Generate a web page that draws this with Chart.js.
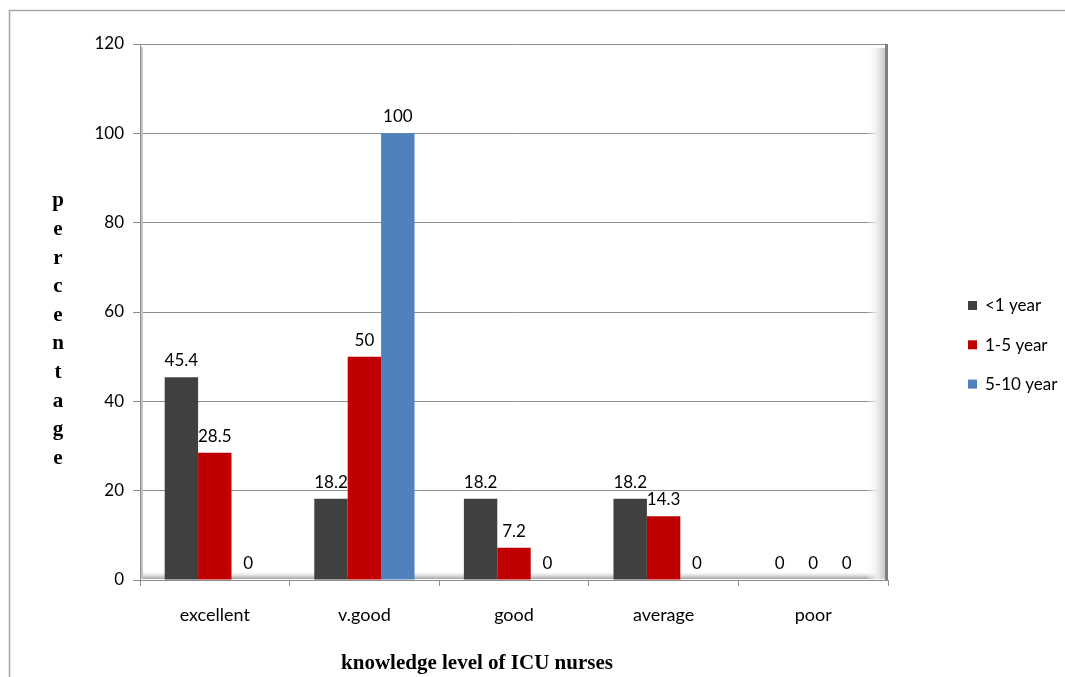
<!DOCTYPE html>
<html>
<head>
<meta charset="utf-8">
<script src="https://cdn.jsdelivr.net/npm/chart.js@4/dist/chart.umd.min.js"></script>
<style>
  html, body { margin: 0; padding: 0; background: #fff; }
  #wrap { width: 1065px; height: 677px; position: relative; }
</style>
</head>
<body>
<div id="wrap"><canvas id="c" width="1065" height="677"></canvas></div>
<script>
// ---- data ----
const categories = ['excellent', 'v.good', 'good', 'average', 'poor'];
const seriesNames = ['<1 year', '1-5 year', '5-10 year'];
const lessThanOneYear = [45.4, 18.2, 18.2, 18.2, 0];
const oneToFiveYears = [28.5, 50, 7.2, 14.3, 0];
const fiveToTenYears = [0, 100, 0, 0, 0];
const seriesColors = ['#404040', '#C00000', '#4F81BD'];
const yMin = 0, yMax = 120, yStep = 20;
const yTitle = 'percentage';
const xTitle = 'knowledge level of ICU nurses';

const tickFont = { family: 'Lato', size: 17 };
const categoryFont = { family: 'Lato', size: 18 };
const titleFontCss = 'bold 21px "Liberation Serif"';

// outer frame of the chart object
const framePlugin = {
  id: 'frame',
  beforeDraw(chart) {
    const ctx = chart.ctx;
    ctx.save();
    ctx.fillStyle = '#fff';
    ctx.fillRect(0, 0, chart.width, chart.height);
    ctx.strokeStyle = '#a6a6a6';
    ctx.lineWidth = 1.5;
    ctx.beginPath();
    ctx.moveTo(9.5, chart.height);
    ctx.lineTo(9.5, 10.5);
    ctx.lineTo(chart.width, 10.5);
    ctx.stroke();
    ctx.restore();
  }
};

// shaded walls and floor of the plot area
const wallsPlugin = {
  id: 'walls',
  beforeDatasetsDraw(chart) {
    const { ctx, chartArea: a } = chart;
    ctx.save();
    // floor band
    let g = ctx.createLinearGradient(0, a.bottom - 9, 0, a.bottom - 1);
    g.addColorStop(0, 'rgba(255,255,255,0)');
    g.addColorStop(0.5, '#e4e4e4');
    g.addColorStop(1, '#a8a8a8');
    ctx.fillStyle = g;
    ctx.fillRect(a.left + 2, a.bottom - 9, a.right - a.left - 5, 8);
    // right wall shading
    g = ctx.createLinearGradient(a.right - 22, 0, a.right - 3, 0);
    g.addColorStop(0, 'rgba(255,255,255,0)');
    g.addColorStop(0.6, '#ececec');
    g.addColorStop(1, '#c8c8c8');
    ctx.fillStyle = g;
    ctx.fillRect(a.right - 22, a.top + 4, 19, a.bottom - a.top - 5);
    ctx.fillStyle = '#7f7f7f';
    ctx.fillRect(a.right - 3, a.top, 3, a.bottom - a.top);
    // left wall edge
    ctx.fillStyle = '#c4c4c4';
    ctx.fillRect(a.left + 1, a.top + 3, 2, a.bottom - a.top - 4);
    ctx.restore();
  }
};

// value labels above each bar
const valueLabelPlugin = {
  id: 'valueLabels',
  afterDatasetsDraw(chart) {
    const ctx = chart.ctx;
    ctx.save();
    ctx.font = `${tickFont.size}px ${tickFont.family}`;
    ctx.fillStyle = '#000';
    ctx.textAlign = 'center';
    ctx.textBaseline = 'bottom';
    chart.data.datasets.forEach((ds, di) => {
      chart.getDatasetMeta(di).data.forEach((bar, i) => {
        ctx.fillText(String(ds.data[i]), bar.x, bar.y - 8);
      });
    });
    ctx.restore();
  }
};

// axis titles and legend
const annotationsPlugin = {
  id: 'annotations',
  afterDraw(chart) {
    const ctx = chart.ctx;
    ctx.save();
    ctx.fillStyle = '#000';
    ctx.font = titleFontCss;
    ctx.textAlign = 'center';
    ctx.textBaseline = 'middle';
    // vertical stacked y title
    const letters = yTitle.split('');
    letters.forEach((ch, k) => ctx.fillText(ch, 58, 201 + k * 28.6));
    // x title
    ctx.fillText(xTitle, 477, 664);
    // legend
    ctx.font = `17px ${tickFont.family}`;
    ctx.textAlign = 'left';
    chart.data.datasets.forEach((ds, di) => {
      const y = 306 + di * 39.3;
      ctx.fillStyle = ds.backgroundColor;
      ctx.fillRect(968, y - 5, 9, 9);
      ctx.fillStyle = '#000';
      ctx.fillText(ds.label, 985, y);
    });
    ctx.restore();
  }
};

const seriesValues = [lessThanOneYear, oneToFiveYears, fiveToTenYears];

new Chart(document.getElementById('c'), {
  type: 'bar',
  data: {
    labels: categories,
    datasets: seriesNames.map((name, i) => ({
      label: name,
      data: seriesValues[i],
      backgroundColor: seriesColors[i],
      borderWidth: 0,
      categoryPercentage: 0.67,
      barPercentage: 1.0
    }))
  },
  options: {
    responsive: false,
    animation: false,
    layout: { padding: { left: 0, right: 177, top: 44, bottom: 0 } },
    plugins: {
      legend: { display: false },
      tooltip: { enabled: false }
    },
    scales: {
      x: {
        offset: true,
        grid: {
          offset: true,
          drawOnChartArea: false,
          drawTicks: true,
          tickLength: 6,
          color: '#8c8c8c'
        },
        border: { display: true, color: '#8c8c8c', width: 1 },
        ticks: { font: categoryFont, color: '#000', padding: 18 },
        afterFit(scale) { scale.height = 97; }
      },
      y: {
        min: yMin,
        max: yMax,
        ticks: { stepSize: yStep, font: tickFont, color: '#000', padding: 9 },
        grid: { color: '#8c8c8c', tickLength: 7, lineWidth: 1 },
        border: { display: true, color: '#8c8c8c', width: 1 },
        afterFit(scale) { scale.width = 140; }
      }
    }
  },
  plugins: [framePlugin, wallsPlugin, valueLabelPlugin, annotationsPlugin]
});
</script>
</body>
</html>
